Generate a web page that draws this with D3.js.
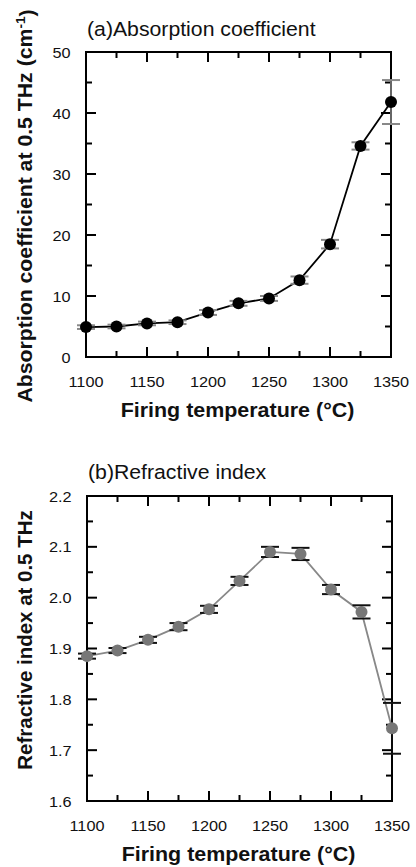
<!DOCTYPE html>
<html>
<head>
<meta charset="utf-8">
<script src="https://cdn.jsdelivr.net/npm/d3@7/dist/d3.min.js"></script>
<style>
  html, body { margin: 0; padding: 0; background: #fff; }
  svg { display: block; font-family: "Liberation Sans", Arial, Helvetica, sans-serif; }
</style>
</head>
<body>
<svg id="chart" width="416" height="867"></svg>
<script>
// ---- Data ----
const temperatures = [1100, 1125, 1150, 1175, 1200, 1225, 1250, 1275, 1300, 1325, 1350];
const absorption = [4.9, 5.0, 5.5, 5.7, 7.3, 8.8, 9.6, 12.6, 18.5, 34.6, 41.8];
const absorptionErr = [0.3, 0.3, 0.3, 0.3, 0.4, 0.4, 0.4, 0.6, 0.7, 0.6, 3.6];
const refractive = [1.885, 1.896, 1.917, 1.943, 1.977, 2.033, 2.090, 2.086, 2.016, 1.972, 1.743];
const refractiveErr = [0.005, 0.005, 0.006, 0.007, 0.007, 0.008, 0.010, 0.012, 0.009, 0.013, 0.050];
const xTicks = [1100, 1150, 1200, 1250, 1300, 1350];
const absTicks = [0, 10, 20, 30, 40, 50];
const refTicks = [1.6, 1.7, 1.8, 1.9, 2.0, 2.1, 2.2];

const svg = d3.select("#chart");

// text with a slight horizontal stretch along its direction
function stretchedText(g, x, y, str, size, sx, anchor, weight, rot) {
  const t = g.append("text")
    .attr("transform", `translate(${x},${y})` + (rot ? ` rotate(${rot})` : "") + ` scale(${sx},1)`)
    .attr("font-size", size).attr("text-anchor", anchor || "start")
    .attr("font-weight", weight || "normal").attr("fill", "#111");
  if (str !== null) t.text(str);
  return t;
}

function panel(opts) {
  const { top, bottom, left, right, yDomain, yTicks, yMinor, yFmt, values, errs,
          dotColor, lineColor, errColor, title, titleY, xLabelY, yLabelX, yLabelY, yLabelScale } = opts;
  const g = svg.append("g");
  const x = d3.scaleLinear().domain([1100, 1350]).range([left, right]);
  const y = d3.scaleLinear().domain(yDomain).range([bottom, top]);
  const xMinor = d3.range(1125, 1350, 50);

  const tickLen = 10, minorLen = 6, sw = 2;
  const drawTicks = (vals, len, isX) => {
    vals.forEach(v => {
      if (isX) {
        g.append("line").attr("x1", x(v)).attr("x2", x(v)).attr("y1", bottom).attr("y2", bottom - len)
          .attr("stroke", "#000").attr("stroke-width", sw);
        g.append("line").attr("x1", x(v)).attr("x2", x(v)).attr("y1", top).attr("y2", top + len)
          .attr("stroke", "#000").attr("stroke-width", sw);
      } else {
        g.append("line").attr("x1", left).attr("x2", left + len).attr("y1", y(v)).attr("y2", y(v))
          .attr("stroke", "#000").attr("stroke-width", sw);
        g.append("line").attr("x1", right).attr("x2", right - len).attr("y1", y(v)).attr("y2", y(v))
          .attr("stroke", "#000").attr("stroke-width", sw);
      }
    });
  };
  drawTicks(xTicks, tickLen, true);
  drawTicks(xMinor, minorLen, true);
  drawTicks(yTicks, tickLen, false);
  drawTicks(yMinor, minorLen, false);

  g.append("rect").attr("x", left).attr("y", top).attr("width", right - left).attr("height", bottom - top)
    .attr("fill", "none").attr("stroke", "#000").attr("stroke-width", sw);

  // tick labels
  xTicks.forEach(d => stretchedText(g, x(d), bottom + 30, String(d), 15.5, 1.05, "middle"));
  yTicks.forEach(d => {
    stretchedText(g, left - 15.5, y(d), yFmt(d), 15.5, 1.05, "end").attr("dy", "0.36em");
  });

  // line
  const line = d3.line().x((d, i) => x(temperatures[i])).y(d => y(d));
  g.append("path").datum(values).attr("d", line).attr("fill", "none")
    .attr("stroke", lineColor).attr("stroke-width", 1.8);

  // error bars
  values.forEach((v, i) => {
    const cx = x(temperatures[i]);
    g.append("line").attr("x1", cx).attr("x2", cx).attr("y1", y(v - errs[i])).attr("y2", y(v + errs[i]))
      .attr("stroke", errColor).attr("stroke-width", 1.5);
    [v - errs[i], v + errs[i]].forEach(e => {
      g.append("line").attr("x1", cx - 9).attr("x2", cx + 9).attr("y1", y(e)).attr("y2", y(e))
        .attr("stroke", errColor).attr("stroke-width", 2);
    });
  });

  // dots
  g.selectAll(".dot").data(values).enter().append("circle")
    .attr("cx", (d, i) => x(temperatures[i])).attr("cy", d => y(d)).attr("r", 6)
    .attr("fill", dotColor);

  // title
  stretchedText(g, left + 1, titleY, title, 19.5, 1.09, "start");

  // x label
  stretchedText(g, (left + right) / 2 - 1, xLabelY, "Firing temperature (°C)", 19.5, 1.1, "middle", "bold");

  // y label
  return stretchedText(g, yLabelX, yLabelY, null, 19.5, yLabelScale, "middle", "bold", -90);
}

const yl1 = panel({
  top: 52, bottom: 357, left: 86, right: 391,
  yDomain: [0, 50], yTicks: absTicks, yMinor: [5, 15, 25, 35, 45], yFmt: d => String(d),
  values: absorption, errs: absorptionErr,
  dotColor: "#000", lineColor: "#000", errColor: "#888",
  title: "(a)Absorption coefficient", titleY: 36, xLabelY: 417, yLabelX: 32, yLabelY: 206, yLabelScale: 1.09
});
yl1.append("tspan").text("Absorption coefficient at 0.5 THz (cm");
yl1.append("tspan").attr("font-size", 12.5).attr("dy", "-0.55em").text("-1");
yl1.append("tspan").attr("dy", "0.45em").text(")");

const yl2 = panel({
  top: 496, bottom: 801, left: 87, right: 392,
  yDomain: [1.6, 2.2], yTicks: refTicks, yMinor: [1.65, 1.75, 1.85, 1.95, 2.05, 2.15], yFmt: d3.format(".1f"),
  values: refractive, errs: refractiveErr,
  dotColor: "#777", lineColor: "#888", errColor: "#111",
  title: "(b)Refractive index", titleY: 479, xLabelY: 860.5, yLabelX: 32, yLabelY: 640, yLabelScale: 1.05
});
yl2.text("Refractive index at 0.5 THz");
</script>
</body>
</html>
